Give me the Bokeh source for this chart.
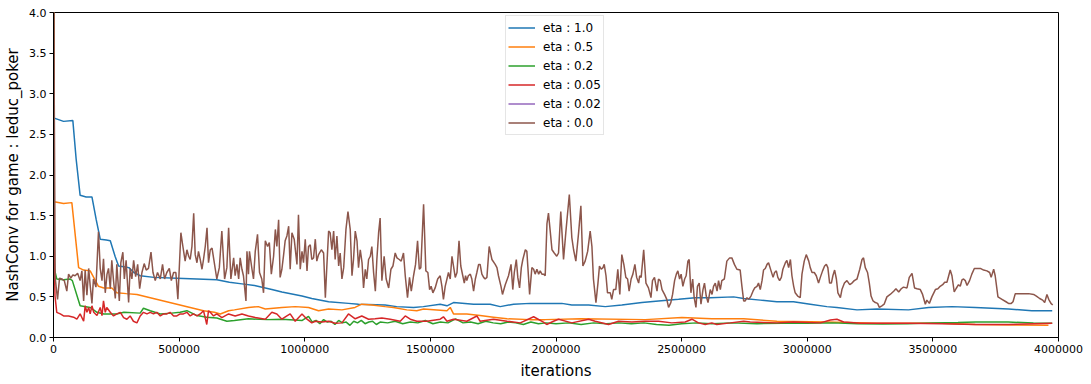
from bokeh.plotting import figure
from bokeh.models import Range1d, FixedTicker, Legend, LegendItem, ColumnDataSource
from bokeh.embed import file_html
from bokeh.resources import INLINE

# ---------------- data (iterations given in thousands) ----------------
labels = ["eta : 1.0", "eta : 0.5", "eta : 0.2", "eta : 0.05", "eta : 0.02", "eta : 0.0"]
colors = ["#1f77b4", "#ff7f0e", "#2ca02c", "#d62728", "#9467bd", "#8c564b"]

x_ticks = [0, 500000, 1000000, 1500000, 2000000, 2500000, 3000000, 3500000, 4000000]
x_tick_labels = ["0", "500000", "1000000", "1500000", "2000000", "2500000", "3000000", "3500000", "4000000"]
y_ticks = [0.0, 0.5, 1.0, 1.5, 2.0, 2.5, 3.0, 3.5, 4.0]
y_tick_labels = ["0.0", "0.5", "1.0", "1.5", "2.0", "2.5", "3.0", "3.5", "4.0"]

eta10_k = [0, 3, 40, 77, 90, 106, 130, 153, 170, 186, 210, 226, 245, 259, 280, 300, 320, 345, 400, 491,
           571, 650, 700, 750, 800, 869, 909, 989, 1028, 1095, 1174, 1214, 1320, 1366, 1433, 1472, 1539,
           1566, 1592, 1672, 1738, 1778, 1831, 1897, 1957, 2023, 2063, 2130, 2196, 2262, 2342, 2408, 2488,
           2554, 2614, 2707, 2747, 2813, 2879, 2945, 3012, 3078, 3118, 3198, 3278, 3403, 3483, 3576, 3669,
           3801, 3894, 3975]
eta10_v = [4.7, 2.70, 2.66, 2.67, 2.20, 1.75, 1.73, 1.73, 1.45, 1.21, 1.20, 1.19, 1.00, 0.88, 0.87, 0.86,
           0.80, 0.76, 0.74, 0.73, 0.72, 0.71, 0.68, 0.66, 0.64, 0.59, 0.56, 0.51, 0.48, 0.44, 0.42, 0.41,
           0.40, 0.38, 0.37, 0.38, 0.41, 0.39, 0.43, 0.41, 0.41, 0.38, 0.41, 0.42, 0.42, 0.42, 0.40, 0.40,
           0.38, 0.40, 0.43, 0.45, 0.47, 0.49, 0.49, 0.50, 0.48, 0.46, 0.44, 0.44, 0.41, 0.38, 0.37, 0.34,
           0.35, 0.34, 0.37, 0.38, 0.37, 0.35, 0.33, 0.33]

eta05_k = [0, 3, 40, 73, 100, 120, 146, 179, 200, 232, 252, 290, 332, 385, 438, 491, 544, 597, 640, 664,
           697, 720, 776, 815, 843, 909, 962, 1015, 1055, 1095, 1148, 1200, 1227, 1267, 1320, 1353, 1406,
           1446, 1473, 1566, 1579, 1592, 1645, 1698, 1751, 1805, 1897, 1957, 2100, 2355, 2501, 2620, 2747,
           2879, 3078, 3278, 3536, 3669, 3960]
eta05_v = [4.7, 1.67, 1.65, 1.66, 0.86, 0.83, 0.82, 0.63, 0.61, 0.61, 0.55, 0.54, 0.53, 0.49, 0.45, 0.41,
           0.37, 0.33, 0.31, 0.29, 0.33, 0.34, 0.37, 0.38, 0.35, 0.37, 0.38, 0.37, 0.33, 0.35, 0.34, 0.37,
           0.41, 0.40, 0.38, 0.37, 0.34, 0.33, 0.35, 0.33, 0.37, 0.29, 0.29, 0.27, 0.25, 0.23, 0.22, 0.22,
           0.23, 0.22, 0.245, 0.23, 0.23, 0.20, 0.19, 0.175, 0.175, 0.16, 0.15]

eta02_k = [0, 3, 13, 40, 66, 75, 106, 146, 173, 200, 252, 280, 345, 358, 385, 425, 470, 504, 531, 571,
           610, 650, 690, 720, 776, 850, 909, 990, 1015, 1030, 1045, 1060, 1075, 1090, 1105, 1120, 1135,
           1150, 1165, 1180, 1195, 1210, 1225, 1240, 1255, 1270, 1285, 1300, 1330, 1360, 1390, 1420, 1450,
           1480, 1510, 1540, 1570, 1600, 1630, 1660, 1690, 1720, 1750, 1780, 1810, 1840, 1870, 1900, 1930,
           1960, 2000, 2050, 2100, 2150, 2200, 2250, 2300, 2350, 2400, 2450, 2500, 2560, 2620, 2700, 2800,
           2900, 3000, 3100, 3200, 3300, 3400, 3500, 3600, 3670, 3800, 3900, 3975]
eta02_v = [4.7, 0.85, 0.72, 0.71, 0.72, 0.70, 0.39, 0.37, 0.31, 0.29, 0.29, 0.31, 0.30, 0.36, 0.33, 0.29,
           0.30, 0.31, 0.33, 0.27, 0.25, 0.24, 0.20, 0.21, 0.23, 0.22, 0.225, 0.21, 0.26, 0.19, 0.21, 0.17,
           0.22, 0.19, 0.20, 0.16, 0.21, 0.18, 0.19, 0.15, 0.20, 0.18, 0.21, 0.17, 0.19, 0.20, 0.16, 0.19,
           0.18, 0.20, 0.17, 0.19, 0.18, 0.21, 0.17, 0.19, 0.18, 0.23, 0.18, 0.19, 0.17, 0.20, 0.18, 0.17,
           0.19, 0.18, 0.16, 0.19, 0.17, 0.18, 0.17, 0.18, 0.16, 0.18, 0.17, 0.18, 0.17, 0.18, 0.16, 0.15,
           0.17, 0.18, 0.17, 0.18, 0.17, 0.175, 0.175, 0.18, 0.17, 0.165, 0.17, 0.18, 0.185, 0.19, 0.19,
           0.18, 0.175]

eta005_k = [0, 3, 6, 13, 27, 40, 60, 80, 93, 106, 120, 126, 133, 140, 146, 153, 160, 173, 186, 193, 199,
            206, 212, 226, 239, 252, 266, 279, 292, 305, 318, 332, 345, 358, 372, 385, 398, 411, 425, 438,
            451, 464, 478, 491, 504, 517, 531, 544, 557, 571, 584, 597, 610, 617, 624, 637, 650, 670, 697,
            723, 750, 776, 803, 843, 869, 889, 909, 929, 942, 962, 989, 1009, 1028, 1042, 1068, 1095, 1121,
            1148, 1174, 1201, 1227, 1254, 1280, 1307, 1340, 1380, 1400, 1420, 1446, 1486, 1539, 1552, 1566,
            1592, 1645, 1685, 1698, 1751, 1805, 1858, 1911, 1950, 1963, 1990, 2010, 2063, 2130, 2156, 2209,
            2249, 2302, 2355, 2408, 2461, 2514, 2541, 2567, 2594, 2620, 2640, 2694, 2747, 2773, 2879, 2945,
            3052, 3092, 3118, 3145, 3211, 3290, 3403, 3536, 3669, 3801, 3975]
eta005_v = [4.7, 0.95, 0.51, 0.31, 0.29, 0.265, 0.265, 0.25, 0.225, 0.29, 0.20, 0.39, 0.31, 0.37, 0.29,
            0.39, 0.31, 0.27, 0.37, 0.27, 0.45, 0.31, 0.37, 0.31, 0.265, 0.29, 0.31, 0.245, 0.225, 0.265,
            0.20, 0.18, 0.265, 0.31, 0.29, 0.31, 0.29, 0.31, 0.265, 0.29, 0.29, 0.31, 0.265, 0.265, 0.29,
            0.29, 0.31, 0.265, 0.29, 0.265, 0.29, 0.33, 0.16, 0.33, 0.31, 0.265, 0.29, 0.245, 0.29, 0.265,
            0.29, 0.265, 0.245, 0.225, 0.31, 0.29, 0.225, 0.265, 0.29, 0.20, 0.29, 0.225, 0.18, 0.20, 0.19,
            0.20, 0.175, 0.18, 0.29, 0.23, 0.265, 0.225, 0.23, 0.24, 0.225, 0.20, 0.265, 0.225, 0.20, 0.20,
            0.225, 0.255, 0.20, 0.225, 0.20, 0.265, 0.20, 0.225, 0.20, 0.18, 0.255, 0.19, 0.16, 0.20, 0.225,
            0.18, 0.225, 0.20, 0.16, 0.20, 0.19, 0.20, 0.20, 0.18, 0.19, 0.225, 0.18, 0.16, 0.18, 0.16, 0.18,
            0.20, 0.19, 0.18, 0.19, 0.18, 0.215, 0.225, 0.19, 0.175, 0.175, 0.175, 0.17, 0.16, 0.16, 0.175]

# eta 0.02 has no visible values in the chart (only its legend entry)
eta002_k = [0]
eta002_v = [float("nan")]

eta00_k = [0, 6.8, 16, 24, 33, 43, 53, 60, 69, 77, 86, 96, 106, 113, 120, 126, 133, 140, 146, 153, 159,
           169, 179, 186, 193, 199, 206, 213, 219, 226, 232, 239, 246, 252, 262, 268, 276, 282, 289, 299,
           305, 312, 319, 327, 335, 343, 352, 361, 369, 378, 388, 396, 405, 414, 425, 434, 442, 451, 461,
           469, 478, 487, 495, 507, 515, 524, 531, 538, 544, 551, 558, 564, 571, 577, 584, 591, 597, 604,
           611, 617, 624, 631, 637, 650, 660, 670, 681, 690, 697, 706, 717, 723, 730, 737, 743, 750, 756,
           766, 770, 776, 780, 790, 796, 803, 812, 820, 829, 836, 843, 852, 859, 867, 876, 883, 889, 896,
           902, 909, 916, 922, 929, 936, 942, 949, 958, 969, 975, 982, 989, 995, 1002, 1009, 1015, 1022,
           1028, 1035, 1042, 1048, 1055, 1066, 1075, 1082, 1088, 1095, 1101, 1108, 1115, 1121, 1128, 1135,
           1141, 1148, 1155, 1164, 1172, 1181, 1188, 1194, 1201, 1208, 1214, 1221, 1228, 1234, 1241, 1247,
           1254, 1261, 1267, 1274, 1281, 1287, 1294, 1300, 1307, 1316, 1324, 1334, 1343, 1351, 1360, 1367,
           1376, 1384, 1393, 1400, 1409, 1417, 1424, 1433, 1441, 1449, 1456, 1462, 1473, 1482, 1490, 1497,
           1503, 1510, 1519, 1529, 1539, 1546, 1552, 1559, 1566, 1572, 1579, 1586, 1592, 1599, 1606, 1614,
           1621, 1629, 1635, 1640, 1645, 1651, 1659, 1665, 1672, 1679, 1685, 1692, 1698, 1705, 1712, 1718,
           1725, 1734, 1745, 1758, 1765, 1771, 1781, 1787, 1798, 1811, 1821, 1828, 1834, 1842, 1848, 1855,
           1862, 1868, 1878, 1884, 1895, 1904, 1911, 1917, 1924, 1931, 1937, 1944, 1951, 1957, 1964, 1970,
           1977, 1984, 1993, 2003, 2010, 2019, 2030, 2039, 2053, 2063, 2070, 2079, 2090, 2099, 2107, 2116,
           2126, 2136, 2143, 2149, 2159, 2167, 2173, 2180, 2187, 2192, 2199, 2205, 2216, 2222, 2229, 2238,
           2246, 2254, 2262, 2270, 2278, 2285, 2291, 2299, 2306, 2314, 2321, 2329, 2333, 2339, 2349, 2358,
           2368, 2378, 2384, 2392, 2402, 2408, 2415, 2422, 2432, 2441, 2448, 2457, 2464, 2472, 2479, 2485,
           2492, 2498, 2505, 2512, 2518, 2525, 2530, 2537, 2544, 2550, 2557, 2563, 2570, 2577, 2585, 2591,
           2598, 2605, 2614, 2621, 2627, 2634, 2641, 2647, 2654, 2660, 2670, 2680, 2691, 2700, 2710, 2720,
           2733, 2740, 2747, 2753, 2760, 2767, 2776, 2784, 2791, 2800, 2806, 2813, 2820, 2826, 2833, 2840,
           2846, 2856, 2864, 2870, 2877, 2883, 2890, 2897, 2903, 2913, 2919, 2926, 2933, 2939, 2946, 2952,
           2962, 2972, 2979, 2988, 2996, 3006, 3012, 3019, 3028, 3036, 3045, 3052, 3061, 3069, 3076, 3082,
           3089, 3096, 3102, 3109, 3116, 3122, 3132, 3138, 3148, 3158, 3169, 3178, 3187, 3198, 3209, 3218,
           3224, 3231, 3240, 3247, 3254, 3262, 3271, 3280, 3287, 3297, 3306, 3317, 3330, 3344, 3353, 3364,
           3374, 3383, 3397, 3406, 3417, 3427, 3437, 3450, 3459, 3470, 3476, 3486, 3496, 3510, 3520, 3529,
           3539, 3547, 3556, 3563, 3569, 3576, 3585, 3592, 3602, 3609, 3616, 3622, 3629, 3636, 3646, 3655,
           3665, 3675, 3689, 3702, 3715, 3726, 3732, 3742, 3748, 3759, 3775, 3791, 3801, 3812, 3819, 3828,
           3841, 3861, 3881, 3901, 3912, 3925, 3937, 3945, 3954, 3961, 3970, 3977]
eta00_v = [4.7, 0.73, 0.47, 0.73, 0.72, 0.70, 0.57, 0.78, 0.73, 0.77, 0.76, 0.79, 0.70, 0.82, 0.45, 0.83,
           0.52, 0.85, 0.64, 0.42, 0.72, 0.62, 1.30, 0.85, 0.70, 0.97, 0.55, 0.78, 0.85, 0.60, 0.95, 0.70,
           0.48, 0.90, 0.45, 0.92, 1.05, 0.72, 0.95, 0.43, 0.85, 0.72, 0.95, 0.75, 0.90, 0.60, 0.80, 0.91,
           0.83, 0.85, 1.05, 0.80, 0.70, 0.80, 0.72, 0.90, 0.72, 0.80, 0.85, 0.70, 0.80, 0.80, 0.47, 1.29,
           1.12, 0.94, 1.08, 1.00, 0.96, 1.12, 1.53, 1.02, 0.92, 1.06, 0.96, 0.84, 0.96, 1.12, 1.35, 0.92,
           1.08, 1.10, 0.98, 0.72, 0.86, 1.31, 0.72, 0.86, 1.35, 0.72, 0.98, 0.76, 0.90, 0.72, 0.98, 0.84,
           0.76, 0.45, 1.06, 0.78, 1.06, 0.84, 0.72, 1.06, 1.27, 0.80, 0.72, 0.55, 1.19, 1.12, 1.17, 0.78,
           1.00, 1.33, 1.12, 1.45, 0.74, 0.84, 1.02, 1.19, 1.25, 1.37, 0.84, 1.29, 1.21, 0.90, 1.51, 0.84,
           1.06, 0.92, 1.21, 0.82, 1.12, 1.14, 0.96, 0.98, 1.21, 0.94, 1.02, 1.08, 1.04, 0.49, 0.88, 1.31,
           1.29, 1.08, 1.31, 0.96, 1.25, 0.88, 1.04, 0.72, 0.86, 1.33, 1.55, 1.33, 0.76, 0.96, 1.31, 1.19,
           0.86, 1.08, 0.92, 0.61, 0.84, 0.72, 0.96, 1.00, 1.12, 0.80, 0.57, 0.96, 1.29, 1.47, 0.70, 1.00,
           0.72, 0.61, 0.84, 0.88, 1.04, 0.98, 0.96, 0.94, 1.04, 0.76, 0.49, 0.74, 0.57, 0.76, 0.90, 1.19,
           0.84, 0.86, 1.64, 0.82, 0.80, 0.59, 0.63, 0.55, 0.61, 0.72, 0.76, 0.63, 0.47, 0.63, 0.72, 0.80,
           0.72, 1.00, 0.88, 0.74, 0.80, 1.19, 0.88, 0.76, 0.67, 0.76, 0.70, 0.76, 0.78, 0.72, 0.57, 0.72,
           0.80, 0.90, 0.90, 0.78, 0.74, 0.72, 0.74, 1.12, 0.96, 0.90, 0.86, 0.76, 0.63, 0.53, 0.65, 0.76,
           0.90, 0.59, 0.80, 0.96, 0.74, 0.61, 0.86, 0.96, 1.08, 1.06, 0.53, 0.86, 0.84, 0.78, 0.84, 0.78,
           0.82, 0.78, 0.78, 0.76, 1.40, 1.53, 1.31, 1.08, 1.04, 1.00, 1.04, 1.55, 0.96, 1.29, 1.76, 1.23,
           1.08, 0.94, 1.29, 1.62, 0.88, 0.94, 1.06, 1.31, 1.12, 0.72, 0.43, 0.67, 0.88, 0.84, 0.86, 0.90,
           0.76, 0.55, 0.55, 0.47, 0.59, 0.59, 0.84, 0.53, 1.02, 0.90, 0.74, 0.72, 0.57, 0.72, 0.78, 0.90,
           0.74, 0.67, 0.76, 0.74, 1.08, 0.67, 0.61, 0.49, 0.70, 0.74, 0.57, 0.72, 0.70, 0.59, 0.53, 0.47,
           0.37, 0.43, 0.53, 0.70, 0.78, 0.82, 0.72, 0.78, 0.63, 0.72, 0.76, 0.94, 0.96, 0.55, 0.72, 0.49,
           0.37, 0.63, 0.67, 0.41, 0.59, 0.67, 0.51, 0.43, 0.59, 0.53, 0.63, 0.67, 0.57, 0.70, 0.59, 0.70,
           0.72, 0.94, 0.98, 0.98, 0.90, 0.84, 0.83, 0.63, 0.45, 0.45, 0.49, 0.47, 0.51, 0.57, 0.61, 0.63,
           0.67, 0.59, 0.70, 0.83, 0.85, 0.90, 0.92, 0.82, 0.74, 0.80, 0.82, 0.74, 0.70, 0.74, 0.84, 0.92,
           0.95, 0.86, 0.96, 0.76, 0.63, 0.55, 0.51, 0.49, 0.78, 0.94, 1.02, 0.94, 0.86, 0.80, 0.80, 0.76,
           0.67, 0.74, 0.82, 0.88, 0.90, 0.86, 0.67, 0.67, 0.76, 0.83, 0.72, 0.55, 0.49, 0.59, 0.67, 0.70,
           0.65, 0.67, 0.70, 0.72, 0.84, 0.96, 0.98, 0.86, 0.80, 0.67, 0.51, 0.45, 0.43, 0.42, 0.37, 0.39,
           0.41, 0.50, 0.53, 0.57, 0.60, 0.56, 0.60, 0.62, 0.61, 0.74, 0.79, 0.61, 0.60, 0.59, 0.53, 0.41,
           0.46, 0.42, 0.50, 0.59, 0.60, 0.63, 0.65, 0.68, 0.68, 0.76, 0.83, 0.76, 0.56, 0.60, 0.65, 0.63,
           0.71, 0.72, 0.70, 0.64, 0.70, 0.78, 0.85, 0.85, 0.85, 0.83, 0.82, 0.80, 0.74, 0.84, 0.76, 0.50,
           0.47, 0.44, 0.42, 0.42, 0.44, 0.54, 0.54, 0.54, 0.54, 0.53, 0.51, 0.48, 0.46, 0.43, 0.53, 0.47,
           0.42, 0.40]

series_k = [eta10_k, eta05_k, eta02_k, eta005_k, eta002_k, eta00_k]
series_v = [eta10_v, eta05_v, eta02_v, eta005_v, eta002_v, eta00_v]

# ---------------- figure ----------------
FONT = "DejaVu Sans"
p = figure(width=1083, height=382, output_backend="svg", toolbar_location=None,
           x_range=Range1d(0, 4000000), y_range=Range1d(0, 4),
           min_border_left=53, min_border_right=25, min_border_top=12, min_border_bottom=44,
           x_axis_label="iterations", y_axis_label="NashConv for game : leduc_poker")
p.xgrid.visible = False
p.ygrid.visible = False
p.outline_line_color = "black"
p.outline_line_alpha = 1.0
p.outline_line_width = 1

p.xaxis.ticker = FixedTicker(ticks=x_ticks)
p.xaxis.major_label_overrides = {t: l for t, l in zip(x_ticks, x_tick_labels)}
p.yaxis.ticker = FixedTicker(ticks=y_ticks)
p.yaxis.major_label_overrides = {t: l for t, l in zip(y_ticks, y_tick_labels)}

for ax in (p.xaxis[0], p.yaxis[0]):
    ax.axis_line_color = "black"
    ax.major_tick_line_color = "black"
    ax.major_tick_out = 4
    ax.major_tick_in = 0
    ax.minor_tick_line_color = None
    ax.major_label_text_font = FONT
    ax.major_label_text_font_size = "11px"
    ax.major_label_text_color = "black"
    ax.axis_label_text_font = FONT
    ax.axis_label_text_font_size = "15px"
    ax.axis_label_text_font_style = "normal"
    ax.axis_label_text_color = "black"
    ax.major_label_standoff = 3
p.yaxis.axis_label_standoff = 4
p.xaxis.axis_label_standoff = 6

items = []
for lab, col, ks, vs in zip(labels, colors, series_k, series_v):
    src = ColumnDataSource(dict(x=[k * 1000 for k in ks], y=vs))
    r = p.line("x", "y", source=src, line_color=col, line_width=1.5)
    items.append(LegendItem(label=lab, renderers=[r]))

legend = Legend(items=items, location=(452, 202), orientation="vertical",
                label_text_font=FONT, label_text_font_size="12px", label_text_color="black",
                glyph_width=27, glyph_height=19, label_height=19, label_standoff=8,
                padding=2, spacing=0, margin=0,
                border_line_color="#cccccc", border_line_width=1,
                background_fill_color="white", background_fill_alpha=0.8)
p.add_layout(legend)

open("out.html", "w").write(file_html(p, INLINE))
